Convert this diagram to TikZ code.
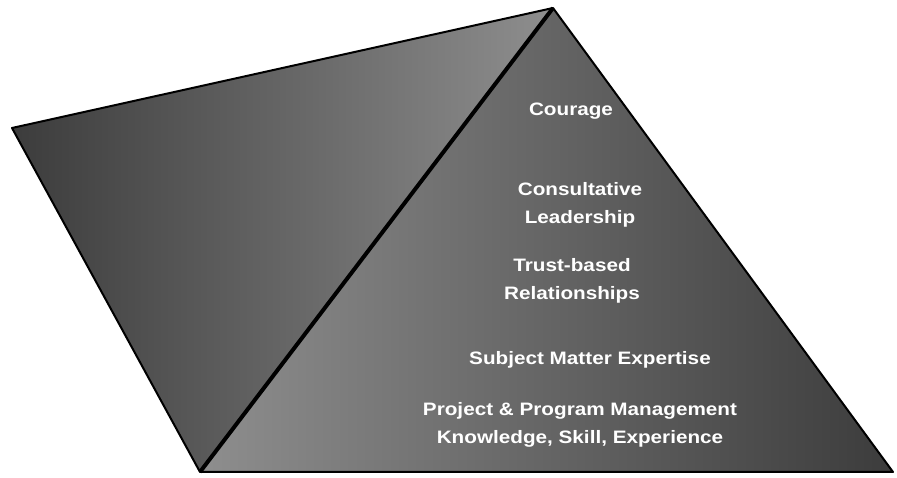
\documentclass[tikz,border=0pt]{standalone}
\usepackage{fontspec}
\newfontfamily\lblfont[FakeStretch=1.15]{Liberation Sans}
\definecolor{facedark}{HTML}{3C3C3C}
\definecolor{facelight}{HTML}{8E8E8E}
\tikzset{
  lbl/.style={text=white, font=\lblfont\bfseries\fontsize{18}{28}\selectfont, align=center, inner sep=0pt},
  edge/.style={draw=black, line width=2pt, line join=round}
}
\begin{document}
\begin{tikzpicture}[x=1pt, y=1pt]
	\useasboundingbox (0,0) rectangle (897,478);
	\coordinate (top) at (553,470);
	\coordinate (left) at (12,350);
	\coordinate (bl) at (200,6);
	\coordinate (br) at (893,6);
	% faces
	\shade[left color=facedark, right color=facelight] (left) -- (top) -- (bl) -- cycle;
	\shade[left color=facelight, right color=facedark] (top) -- (br) -- (bl) -- cycle;
	\draw[edge] (left) -- (top) -- (br) -- (bl) -- cycle;
	\draw[line width=4pt] (top) -- (bl);
	% labels
	\node[lbl] (courage) at (571,367) {Courage};
	\node[lbl] (lead) at (580,273) {Consultative\\Leadership};
	\node[lbl] (trust) at (572,197) {Trust-based\\Relationships};
	\node[lbl] (expert) at (590,118) {Subject Matter Expertise};
	\node[lbl] (pm) at (580,53) {Project \& Program Management\\Knowledge, Skill, Experience};
\end{tikzpicture}
\end{document}
